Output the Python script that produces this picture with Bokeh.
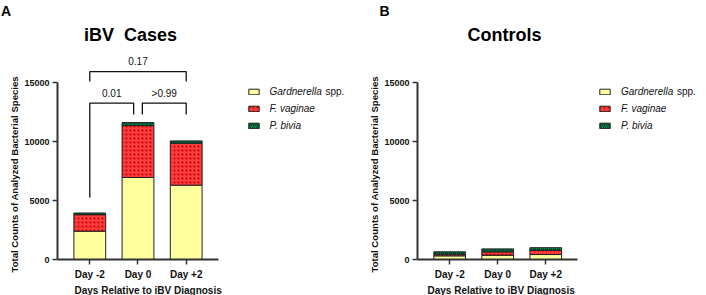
from bokeh.plotting import figure
from bokeh.models import (Range1d, FixedTicker, ColumnDataSource, Legend, LegendItem, Title, Label)
from bokeh.core.properties import value
from bokeh.layouts import row
from bokeh.embed import file_html
from bokeh.resources import INLINE

# ---------------- data ----------------
days = ["Day -2", "Day 0", "Day +2"]
species = ["Gardnerella", "F. vaginae", "P. bivia"]

cases_gardnerella = [2400, 6950, 6300]
cases_fvaginae = [1400, 4400, 3550]
cases_pbivia = [140, 250, 200]

ctrl_gardnerella = [310, 360, 420]
ctrl_fvaginae = [140, 290, 360]
ctrl_pbivia = [200, 250, 220]

y_ticks = [0, 5000, 10000, 15000]
comparisons = [(0, 1, "0.01"), (1, 2, ">0.99"), (0, 2, "0.17")]

# ---------------- style ----------------
FONT = "Liberation Sans"
FILLS = ["#FFFF9E", "#FF3B3B", "#00A060"]
HATCH = ["", "dot", "right_diagonal_line"]
HATCH_COL = ["#000000", "#B80000", "#003A1E"]
AXIS_COL = "#333333"
PX_PER_CAT = 48.2               # horizontal pixels per category
FRAME_TOP, FRAME_BOTTOM = 18, 259
PX_PER_UNIT = (FRAME_BOTTOM - 82) / 15000.0


def make_panel(width, border_left, g, f, pb, title, letter, title_x, letter_off,
               xlabel_off, legend_x):
    frame_w = width - border_left
    x0 = -0.67
    p = figure(width=width, height=295, output_backend="svg", toolbar_location=None,
               x_range=Range1d(x0, x0 + frame_w / PX_PER_CAT),
               y_range=Range1d(0, (FRAME_BOTTOM - FRAME_TOP) / PX_PER_UNIT),
               min_border_left=border_left, min_border_right=0,
               min_border_top=FRAME_TOP, min_border_bottom=295 - FRAME_BOTTOM)
    p.outline_line_color = None
    p.xgrid.grid_line_color = None
    p.ygrid.grid_line_color = None
    p.background_fill_color = "white"
    p.border_fill_color = "white"

    src = ColumnDataSource(dict(x=list(range(len(days))), g=g, f=f, p=pb))
    rends = p.vbar_stack(["g", "f", "p"], x="x", width=0.66, source=src,
                         fill_color=FILLS, line_color="#222222", line_width=1,
                         hatch_pattern=HATCH, hatch_color=HATCH_COL,
                         hatch_scale=[4, 4, 4], hatch_weight=[1, 0.9, 1.2])

    # axes
    for ax in (p.xaxis[0], p.yaxis[0]):
        ax.axis_line_width = 2
        ax.axis_line_color = AXIS_COL
        ax.major_tick_line_color = AXIS_COL
        ax.major_tick_line_width = 1.5
        ax.major_tick_out = 5
        ax.major_tick_in = 0
        ax.minor_tick_line_color = None
        ax.major_label_text_font = FONT
        ax.major_label_text_font_style = "bold"
        ax.major_label_text_color = "#111111"
    p.yaxis.ticker = FixedTicker(ticks=y_ticks)
    p.yaxis.bounds = (0, 15000)
    p.yaxis.major_label_text_font_size = "9px"
    p.yaxis.major_label_standoff = 3
    p.xaxis.ticker = FixedTicker(ticks=list(range(len(days))))
    p.xaxis.bounds = (x0, -x0 + len(days) - 1)
    p.xaxis.major_label_overrides = {i: d for i, d in enumerate(days)}
    p.xaxis.major_label_text_font_size = "10px"
    p.xaxis.major_label_standoff = 4

    # axis titles
    p.add_layout(Title(text="Days Relative to iBV Diagnosis", align="left",
                       offset=xlabel_off, standoff=0, text_font=FONT, text_font_style="bold",
                       text_font_size="10px", text_color="#111111"), "below")
    p.add_layout(Title(text="Total Counts of Analyzed Bacterial Species", align="left",
                       offset=-13, standoff=4, text_font=FONT, text_font_style="bold",
                       text_font_size="9.6px", text_color="#111111"), "left")
    # panel letter
    p.add_layout(Title(text=letter, align="left", offset=letter_off, standoff=0,
                       text_font=FONT, text_font_style="bold", text_font_size="14px",
                       text_color="black"), "above")
    # panel title
    p.add_layout(Label(x=title_x, y=FRAME_BOTTOM - 34.5, x_units="screen", y_units="screen",
                       text=title, text_align="center", text_baseline="alphabetic",
                       text_font=FONT, text_font_style="bold", text_font_size="18px",
                       text_color="black"))

    # legend
    items = [LegendItem(label=s, renderers=[r]) for s, r in zip(species, rends)]
    leg = Legend(items=items, location=(legend_x, FRAME_BOTTOM - 131.5), padding=0, margin=0,
                 spacing=4, glyph_width=13, glyph_height=7, label_height=13,
                 label_standoff=10, border_line_color=None, background_fill_alpha=0,
                 label_text_font=FONT, label_text_font_style="italic",
                 label_text_font_size="10px", label_text_color="#111111")
    p.add_layout(leg)
    p.add_layout(Label(x=legend_x + 78.5, y=FRAME_BOTTOM - 91, x_units="screen", y_units="screen",
                       text="spp.", text_align="left", text_baseline="middle",
                       text_font=FONT, text_font_size="10px", text_color="#111111"))
    return p


p1 = make_panel(364, 57, cases_gardnerella, cases_fvaginae, cases_pbivia,
                "iBV\u00a0\u00a0Cases", "A", title_x=73, letter_off=-56.5, xlabel_off=17,
                legend_x=189.5)
p2 = make_panel(342, 52, ctrl_gardnerella, ctrl_fvaginae, ctrl_pbivia,
                "Controls", "B", title_x=87, letter_off=-38, xlabel_off=10,
                legend_x=181)

# significance brackets (cases panel)
leg_gap = 0.09
low_top, low_leg, high_top, high_leg = 13250, 12290, 15930, 15085
xs, ys, lx, ly, lt = [], [], [], [], []
for a, b, lab in comparisons:
    if b - a == 1:
        xa = a + (leg_gap if a == 1 else 0)
        xb = b - (leg_gap if b == 1 else 0)
        ya = 5260 if a == 0 else low_leg
        xs.append([xa, xa, xb, xb]); ys.append([ya, low_top, low_top, low_leg])
        lx.append((xa + xb) / 2); ly.append(14070)
    else:
        xs.append([a, a, b, b]); ys.append([high_leg, high_top, high_top, high_leg])
        lx.append((a + b) / 2); ly.append(16780)
    lt.append(lab)
p1.multi_line(xs=xs, ys=ys, line_color="#111111", line_width=1.3)
p1.text(x=lx, y=ly, text=lt, text_align="center", text_baseline="middle",
        text_font=value(FONT), text_font_size="10px", text_color="#111111")

layout = row(p1, p2)
open("out.html", "w").write(file_html(layout, INLINE))
